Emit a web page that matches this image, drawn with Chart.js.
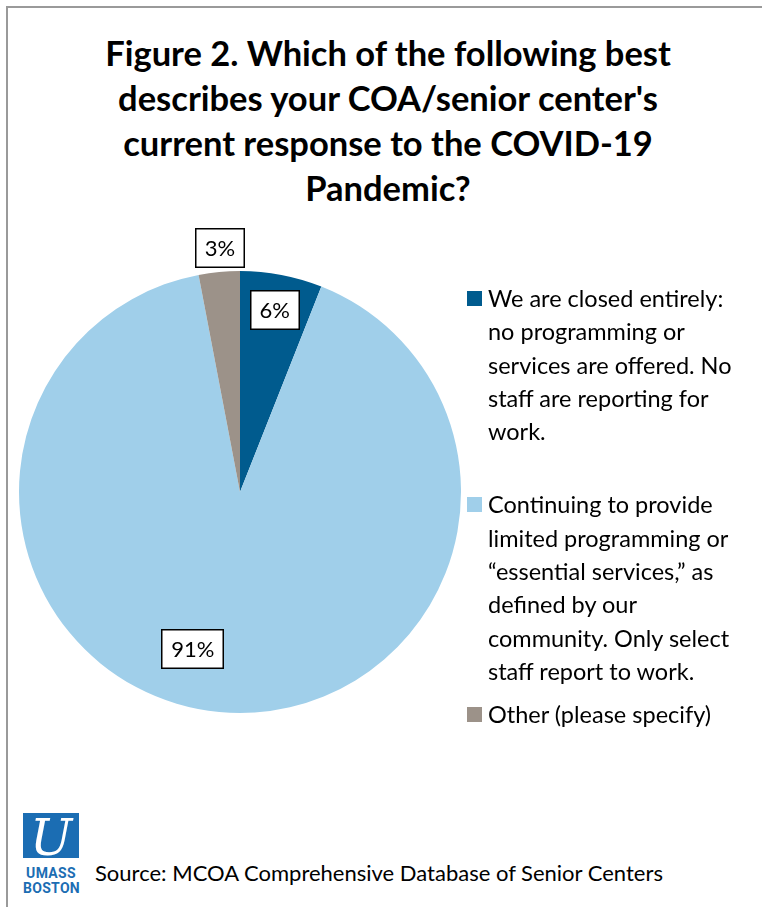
<!DOCTYPE html>
<html>
<head>
<meta charset="utf-8">
<script src="https://cdn.jsdelivr.net/npm/chart.js@4.4.1/dist/chart.umd.min.js"></script>
<style>
  html, body { margin: 0; padding: 0; background: #fff; }
  body { width: 762px; height: 907px; position: relative; overflow: hidden; font-family: Lato, "Open Sans", sans-serif; color: #000; }
  .frame { position: absolute; left: 6px; top: 6px; width: 800px; height: 950px; border-left: 2px solid #9a9a9a; border-top: 2px solid #9a9a9a; }
  h1 { position: absolute; left: 0; width: 776px; top: 30px; margin: 0; text-align: center; font-size: 34.5px; line-height: 45px; font-weight: 700; }
  #chartBox { position: absolute; left: 0; top: 220px; width: 480px; height: 542px; }
  #legend { position: absolute; left: 467px; top: 282px; }
  .entry { position: relative; padding-left: 21px; font-size: 23.5px; line-height: 33.3px; }
  .entry .swatch { position: absolute; left: 0; top: 9px; width: 15px; height: 15px; }
  .entry:nth-child(1) { margin-bottom: 40px; }
  .entry:nth-child(2) { margin-bottom: 10px; }
  .logo { position: absolute; left: 23px; top: 813px; width: 56px; }
  .logo .mark { width: 56px; height: 45px; background: #1b6db3; color: #fff; text-align: center; font-family: "DejaVu Serif", serif; font-style: italic; font-size: 50px; line-height: 50px; overflow: hidden; }
  .logo .word { color: #1b6db3; font-family: "Liberation Sans Narrow", "Roboto", sans-serif; font-weight: 700; font-size: 14px; line-height: 15px; text-align: center; letter-spacing: 0.3px; margin-top: 8px; }
  .source { position: absolute; left: 95px; top: 858px; font-size: 22px; line-height: 30px; }
</style>
</head>
<body>
<div class="frame"></div>
<h1>Figure 2. Which of the following best<br>describes your COA/senior center's<br>current response to the COVID-19<br>Pandemic?</h1>
<div id="chartBox"><canvas id="pie"></canvas></div>
<div id="legend"></div>
<div class="logo"><div class="mark">U</div><div class="word">UMASS<br>BOSTON</div></div>
<div class="source">Source: MCOA Comprehensive Database of Senior Centers</div>
<script>
// Survey responses (percent of COAs / senior centers)
const categories = [
  ["We are closed entirely:", "no programming or", "services are offered. No", "staff are reporting for", "work."],
  ["Continuing to provide", "limited programming or", "\u201cessential services,\u201d as", "defined by our", "community. Only select", "staff report to work."],
  ["Other (please specify)"]
];
const values = [6, 91, 3];
const valueLabels = ["6%", "91%", "3%"];
const colors = ["#005b8e", "#a0cfea", "#9c9289"];

// Where each value box sits: fraction of radius along the slice, plus an angular nudge (degrees)
const labelRadius = [0.84, 0.74, 1.11];
const labelNudge = [0, 11.4, 0.7];

const valueBoxes = {
  id: 'valueBoxes',
  afterDatasetsDraw(chart) {
    const ctx = chart.ctx;
    const meta = chart.getDatasetMeta(0);
    ctx.save();
    ctx.font = '22px Lato, "Open Sans", sans-serif';
    ctx.textAlign = 'center';
    ctx.textBaseline = 'middle';
    meta.data.forEach((arc, i) => {
      const p = arc.getProps(['x', 'y', 'startAngle', 'endAngle', 'outerRadius'], true);
      const mid = (p.startAngle + p.endAngle) / 2 + labelNudge[i] * Math.PI / 180;
      const r = p.outerRadius * labelRadius[i];
      const x = p.x + Math.cos(mid) * r;
      const y = p.y + Math.sin(mid) * r;
      const text = valueLabels[i];
      const w = ctx.measureText(text).width + 20;
      const h = 40;
      ctx.fillStyle = '#fff';
      ctx.fillRect(Math.round(x - w / 2), Math.round(y - h / 2), Math.round(w), h);
      ctx.lineWidth = 1.5;
      ctx.strokeStyle = '#000';
      ctx.strokeRect(Math.round(x - w / 2) + 0.75, Math.round(y - h / 2) + 0.75, Math.round(w) - 1.5, h - 1.5);
      ctx.fillStyle = '#000';
      ctx.fillText(text, x, y + 1);
    });
    ctx.restore();
  }
};

new Chart(document.getElementById('pie'), {
  type: 'pie',
  data: {
    labels: categories.map(l => l.join(' ')),
    datasets: [{ data: values, backgroundColor: colors, borderWidth: 0 }]
  },
  options: {
    responsive: true,
    maintainAspectRatio: false,
    animation: false,
    layout: { padding: { left: 19, right: 19, top: 50, bottom: 48 } },
    plugins: { legend: { display: false }, tooltip: { enabled: false } }
  },
  plugins: [valueBoxes]
});

// Legend entries built from the same categories and colours
const legend = document.getElementById('legend');
categories.forEach((lines, i) => {
  const div = document.createElement('div');
  div.className = 'entry';
  const sw = document.createElement('span');
  sw.className = 'swatch';
  sw.style.background = colors[i];
  div.appendChild(sw);
  lines.forEach((line, j) => {
    if (j) div.appendChild(document.createElement('br'));
    div.appendChild(document.createTextNode(line));
  });
  legend.appendChild(div);
});
</script>
</body>
</html>
